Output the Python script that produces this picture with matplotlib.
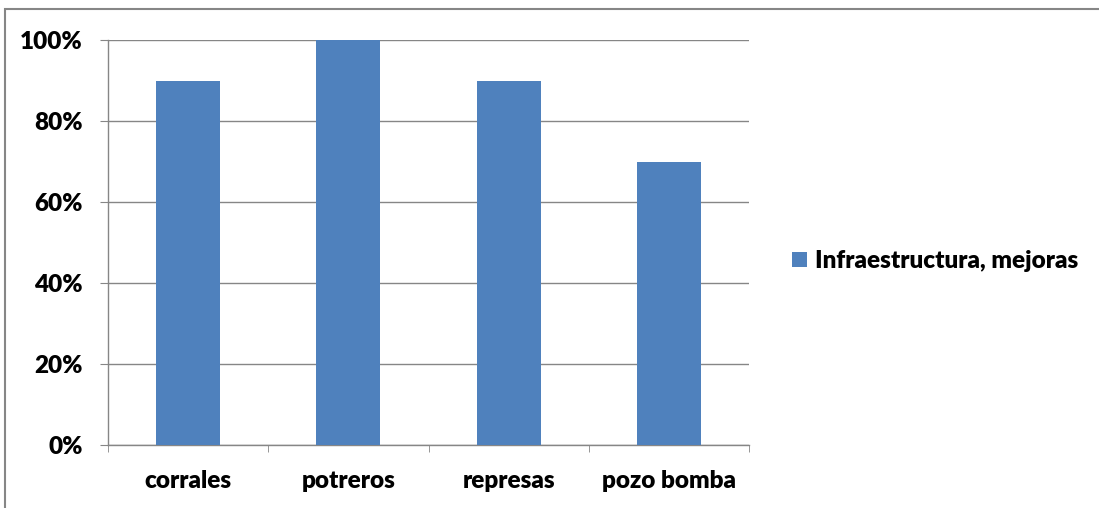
import matplotlib.pyplot as plt
import matplotlib.patches as mpatches
from matplotlib.ticker import FixedLocator, PercentFormatter

# Datos del grafico
categorias = ["corrales", "potreros", "represas", "pozo bomba"]
valores = [90, 100, 90, 70]
serie = "Infraestructura, mejoras"

color_barra = "#4F81BD"
gris = "#868686"
tam = 17.5

plt.rcParams['font.family'] = ['Lato', 'DejaVu Sans']
plt.rcParams['font.weight'] = 'heavy'

fig = plt.figure(figsize=(10.99, 5.08), dpi=100)
ax = fig.add_axes([108 / 1099, 1 - 445 / 508, (749 - 108) / 1099, (445 - 40) / 508])

x = list(range(len(categorias)))
ax.bar(x, valores, width=0.4, color=color_barra, label=serie, zorder=3)

ax.set_xlim(-0.5, len(categorias) - 0.5)
ax.set_ylim(0, 100)
ax.set_yticks([0, 20, 40, 60, 80, 100])
ax.yaxis.set_major_formatter(PercentFormatter(decimals=0))
ax.set_xticks(x)
ax.set_xticklabels(categorias)
ax.xaxis.set_minor_locator(FixedLocator([i - 0.5 for i in range(len(categorias) + 1)]))

ax.grid(axis='y', color=gris, linewidth=1, zorder=0)
for lado in ['top', 'right']:
    ax.spines[lado].set_visible(False)
for lado in ['left', 'bottom']:
    ax.spines[lado].set_color(gris)
    ax.spines[lado].set_linewidth(1)

ax.tick_params(axis='y', length=6, color=gris, pad=12, labelsize=tam)
ax.tick_params(axis='x', which='major', length=0, pad=18, labelsize=tam)
ax.tick_params(axis='x', which='minor', length=5, color=gris, direction='out')

fig.legend(loc='center left', bbox_to_anchor=(792 / 1099, 1 - 261 / 508),
           frameon=False, fontsize=tam, handlelength=0.6, handleheight=0.6,
           handletextpad=0.35, borderpad=0, borderaxespad=0)

# marco exterior
marco = mpatches.Rectangle((5 / 1099, -0.05), 1.1, 1 - 9.5 / 508 + 0.05,
                           transform=fig.transFigure, fill=False,
                           edgecolor=gris, linewidth=1.5, clip_on=False)
fig.patches.append(marco)

fig.savefig("out.png", dpi=100)
